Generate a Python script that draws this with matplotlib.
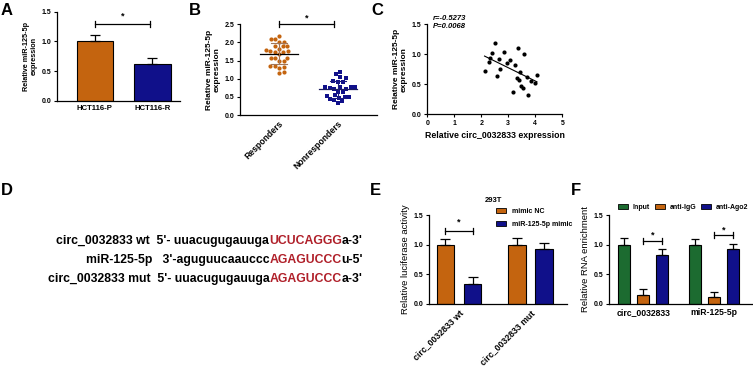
import numpy as np
import matplotlib
matplotlib.use("Agg")
import matplotlib.pyplot as plt
from matplotlib.patches import Patch

plt.rcParams['font.family'] = ['Liberation Sans', 'DejaVu Sans']

# ---------------- data ----------------
a_groups = ['HCT116-P', 'HCT116-R']
a_mean = [1.00, 0.62]
a_err = [0.11, 0.10]

b_groups = ['Responders', 'Nonresponders']
b_resp = [2.18, 2.09, 2.10, 2.01, 2.02, 1.90, 1.91, 1.90, 1.80, 1.82, 1.77, 1.76, 1.74,
          1.73, 1.69, 1.58, 1.58, 1.57, 1.49, 1.50, 1.35, 1.32, 1.30, 1.36, 1.19, 1.17]
b_nonresp = [1.19, 1.13, 1.04, 1.01, 0.92, 0.93, 0.92, 0.76, 0.74, 0.71, 0.76, 0.71, 0.64,
             0.64, 0.52, 0.50, 0.55, 0.50, 0.43, 0.42, 0.39, 0.48, 0.34, 0.76, 0.78]

c_circ = [2.12, 2.27, 2.33, 2.40, 2.52, 2.58, 2.64, 2.70, 2.83, 2.95, 3.07, 3.26, 3.17,
          3.36, 3.32, 3.44, 3.41, 3.48, 3.53, 3.57, 3.69, 3.73, 3.84, 3.98, 4.06]
c_mir = [0.72, 0.88, 0.94, 1.02, 1.19, 0.64, 0.93, 0.75, 1.04, 0.85, 0.91, 0.83, 0.37,
         1.11, 0.61, 0.70, 0.57, 0.48, 0.44, 1.00, 0.63, 0.33, 0.56, 0.53, 0.65]
c_stats = ['r=-0.5273', 'P=0.0068']

d_rows = [
    ("circ_0032833 wt  5'- uuacugugauuga", "UCUCAGGG", "a-3'"),
    ("miR-125-5p   3'-aguguucaauccc", "AGAGUCCC", "u-5'"),
    ("circ_0032833 mut  5'- uuacugugauuga", "AGAGUCCC", "a-3'"),
]

e_groups = ['circ_0032833 wt', 'circ_0032833 mut']
e_series = ['mimic NC', 'miR-125-5p mimic']
e_nc = [1.00, 1.00]
e_nc_err = [0.10, 0.11]
e_mimic = [0.34, 0.92]
e_mimic_err = [0.11, 0.10]

f_groups = ['circ_0032833', 'miR-125-5p']
f_series = ['Input', 'anti-IgG', 'anti-Ago2']
f_input = [1.00, 1.00]
f_input_err = [0.11, 0.10]
f_igg = [0.15, 0.12]
f_igg_err = [0.11, 0.09]
f_ago2 = [0.83, 0.92]
f_ago2_err = [0.09, 0.09]

# ---------------- style ----------------
ORANGE = '#C4640F'
NAVY = '#10108A'
GREEN = '#1C6B30'
RED = '#B0202A'
W, H = 753, 366
fig = plt.figure(figsize=(W / 100, H / 100), dpi=100)


def add_ax(l, t, r, b):
    return fig.add_axes([l / W, 1 - b / H, (r - l) / W, (b - t) / H])


def style(ax, yticks, tick_fs=5):
    for s in ['top', 'right']:
        ax.spines[s].set_visible(False)
    for s in ['left', 'bottom']:
        ax.spines[s].set_linewidth(0.9)
    ax.set_yticks(yticks)
    ax.set_yticklabels(['%.1f' % v for v in yticks], fontsize=tick_fs, fontweight='bold')
    ax.tick_params(axis='y', length=2.5, width=0.8, pad=1.5)
    ax.set_facecolor('none')


def bracket(ax, x0, x1, y, ystar, hpx=3):
    dy = hpx * (ax.get_ylim()[1] - ax.get_ylim()[0]) / (ax.bbox.height)
    ax.plot([x0, x1], [y, y], color='black', lw=0.9, clip_on=False)
    ax.plot([x0, x0], [y - dy, y + dy], color='black', lw=0.9, clip_on=False)
    ax.plot([x1, x1], [y - dy, y + dy], color='black', lw=0.9, clip_on=False)
    ax.text((x0 + x1) / 2, ystar, '*', ha='center', va='center', fontsize=6.5,
            fontweight='bold', clip_on=False)


def panel_label(x, y, s):
    fig.text(x / W, 1 - y / H, s, fontsize=12, fontweight='bold', ha='left', va='top')


ekw = dict(ecolor='black', elinewidth=0.9, capsize=3.5, capthick=0.9)

# ---------------- A ----------------
axA = add_ax(57, 11.7, 180, 100.7)
xA = np.arange(len(a_groups))
axA.bar(xA, a_mean, width=0.64, color=[ORANGE, NAVY], edgecolor='black', linewidth=0.8,
        yerr=[np.zeros(2), a_err], error_kw=ekw)
axA.set_xlim(-0.66, 1.48)
axA.set_ylim(0, 1.5)
style(axA, [0, 0.5, 1.0, 1.5])
axA.set_xticks(xA)
axA.set_xticklabels(a_groups, fontsize=5.6, fontweight='bold')
axA.tick_params(axis='x', length=0, pad=3)
axA.set_ylabel('Relative miR-125-5p\nexpression', fontsize=5.2, fontweight='bold', labelpad=3,
               linespacing=1.1)
bracket(axA, 0, 0.96, 1.30, 1.42)
panel_label(1, 3, 'A')

# ---------------- B ----------------
axB = add_ax(240, 24.3, 377, 115)
axB.set_xlim(-0.66, 1.66)
axB.set_ylim(0, 2.5)
style(axB, [0, 0.5, 1.0, 1.5, 2.0, 2.5])
fig.canvas.draw()
xpx = axB.bbox.width / (axB.get_xlim()[1] - axB.get_xlim()[0])
ypx = axB.bbox.height / (axB.get_ylim()[1] - axB.get_ylim()[0])


def swarm(vals, diam):
    vals = np.asarray(vals, dtype=float)
    order = np.argsort(vals)
    placed = []
    offs = np.zeros(len(vals))
    for i in order:
        y = vals[i] * ypx
        cands = [0.0]
        for (px, py) in placed:
            d = abs(py - y)
            if d < diam:
                dx = np.sqrt(diam ** 2 - d ** 2)
                cands += [px + dx, px - dx]
        cands = sorted(cands, key=abs)
        for c in cands:
            ok = all((c - px) ** 2 + (y - py) ** 2 >= diam ** 2 - 1e-6 for (px, py) in placed)
            if ok:
                offs[i] = c
                placed.append((c, y))
                break
    return offs / xpx


for k, (vals, col, mk, mline, sdcol) in enumerate([
        (b_resp, ORANGE, 'o', 'black', '#A0765A'),
        (b_nonresp, NAVY, 's', '#1A1A60', '#1A1A80')]):
    off = swarm(vals, 4.6)
    axB.scatter(k + off, vals, s=9, marker=mk, color=col, linewidths=0, zorder=3)
    m = np.mean(vals)
    sd = np.std(vals, ddof=1)
    axB.plot([k - 0.32, k + 0.32], [m, m], color=mline, lw=0.9, zorder=4)
    axB.plot([k, k], [m - sd, m + sd], color=sdcol, lw=0.8, zorder=4)
    for yy in (m - sd, m + sd):
        axB.plot([k - 0.14, k + 0.14], [yy, yy], color=sdcol, lw=0.8, zorder=4)
axB.set_xticks([0, 1])
axB.set_xticklabels(b_groups, fontsize=6.2, fontweight='bold', rotation=45, ha='right',
                    va='top', rotation_mode='anchor')
axB.tick_params(axis='x', length=0, pad=3)
axB.set_ylabel('Relative miR-125-5p\nexpression', fontsize=6, fontweight='bold', labelpad=3,
               linespacing=1.1)
bracket(axB, 0, 0.93, 2.52, 2.68)
panel_label(189, 3, 'B')

# ---------------- C ----------------
axC = add_ax(427.3, 24.3, 562.3, 114.3)
axC.scatter(c_circ, c_mir, s=9, color='black', linewidths=0, zorder=3)
slope, icpt = np.polyfit(c_circ, c_mir, 1)
xs = np.array([min(c_circ), max(c_circ)])
axC.plot(xs, slope * xs + icpt, color='black', lw=0.8)
axC.set_xlim(0, 5)
axC.set_ylim(0, 1.5)
style(axC, [0, 0.5, 1.0, 1.5])
axC.set_xticks(range(6))
axC.set_xticklabels([str(i) for i in range(6)], fontsize=5, fontweight='bold')
axC.tick_params(axis='x', length=2.5, width=0.8, pad=1.5)
axC.set_xlabel('Relative circ_0032833 expression', fontsize=6.3, fontweight='bold', labelpad=3)
axC.set_ylabel('Relative miR-125-5p\nexpression', fontsize=6, fontweight='bold', labelpad=3,
               linespacing=1.1)
for s, yp in zip(c_stats, [18, 27]):
    fig.text(433 / W, 1 - yp / H, s, fontsize=5.5, fontweight='bold', style='italic',
             va='center', ha='left')
panel_label(371, 3, 'C')

# ---------------- D ----------------
panel_label(1, 183, 'D')
fig.canvas.draw()
rend = fig.canvas.get_renderer()
dkw = dict(ha='left', va='baseline', fontsize=8.8, fontweight='bold')


def text_w(s):
    t = fig.text(0, 0, s, **dkw)
    w = t.get_window_extent(rend).width
    t.remove()
    return w


for (pre, mid, post), yp in zip(d_rows, [244, 263, 282]):
    full = pre + mid + post
    w_full = text_w(full)
    x0 = 363.0 - w_full
    x_mid = x0 + text_w(pre + mid) - text_w(mid)
    x_post = x0 + w_full - text_w(post)
    fig.text(x0 / W, 1 - yp / H, pre, color='black', **dkw)
    fig.text(x_mid / W, 1 - yp / H, mid, color=RED, **dkw)
    fig.text(x_post / W, 1 - yp / H, post, color='black', **dkw)

# ---------------- E ----------------
axE = add_ax(429, 215, 567, 304)
xE = np.arange(len(e_groups))
off = 0.19
bw = 0.245
axE.bar(xE - off, e_nc, width=bw, color=ORANGE, edgecolor='black', linewidth=0.8,
        yerr=[np.zeros(2), e_nc_err], error_kw=ekw, label=e_series[0])
axE.bar(xE + off, e_mimic, width=bw, color=NAVY, edgecolor='black', linewidth=0.8,
        yerr=[np.zeros(2), e_mimic_err], error_kw=ekw, label=e_series[1])
axE.set_xlim(-0.42, 1.51)
axE.set_ylim(0, 1.5)
style(axE, [0, 0.5, 1.0, 1.5])
axE.set_xticks(xE)
axE.set_xticklabels(e_groups, fontsize=6.3, fontweight='bold', rotation=45, ha='right',
                    va='top', rotation_mode='anchor')
axE.tick_params(axis='x', length=0, pad=3)
axE.set_ylabel('Relative luciferase activity', fontsize=6.8, labelpad=3)
bracket(axE, -off, off, 1.235, 1.38)
fig.text(485 / W, 1 - 200 / H, '293T', fontsize=5.5, fontweight='bold', va='center', ha='left')
axE.legend(handles=[Patch(facecolor=ORANGE, edgecolor='black', linewidth=0.6),
                    Patch(facecolor=NAVY, edgecolor='black', linewidth=0.6)],
           labels=e_series, loc='upper left', bbox_to_anchor=(496 / W, 1 - 208 / H),
           bbox_transform=fig.transFigure, fontsize=5, frameon=False,
           handlelength=1.5, handleheight=0.8, handletextpad=0.8, labelspacing=0.85,
           borderpad=0, borderaxespad=0)
for t in axE.get_legend().get_texts():
    t.set_fontweight('bold')
panel_label(370, 183, 'E')

# ---------------- F ----------------
axF = add_ax(609, 215, 752, 304)
xF = np.arange(len(f_groups))
off = 0.268
bw = 0.176
for dx, vals, errs, col, lab in [(-off, f_input, f_input_err, GREEN, f_series[0]),
                                  (0, f_igg, f_igg_err, ORANGE, f_series[1]),
                                  (off, f_ago2, f_ago2_err, NAVY, f_series[2])]:
    axF.bar(xF + dx, vals, width=bw, color=col, edgecolor='black', linewidth=0.8,
            yerr=[np.zeros(2), errs], error_kw=dict(ekw, capsize=3), label=lab)
axF.set_xlim(-0.48, 1.535)
axF.set_ylim(0, 1.5)
style(axF, [0, 0.5, 1.0, 1.5])
axF.set_xticks(xF)
axF.set_xticklabels(f_groups, fontsize=6.2, fontweight='bold')
axF.tick_params(axis='x', length=0, pad=3)
axF.set_ylabel('Relative RNA enrichment', fontsize=6.8, labelpad=3)
bracket(axF, 0, off, 1.06, 1.16)
bracket(axF, 1, 1 + off, 1.16, 1.25)
axF.legend(handles=[Patch(facecolor=GREEN, edgecolor='black', linewidth=0.6),
                    Patch(facecolor=ORANGE, edgecolor='black', linewidth=0.6),
                    Patch(facecolor=NAVY, edgecolor='black', linewidth=0.6)],
           labels=f_series, loc='upper left', bbox_to_anchor=(618 / W, 1 - 204 / H),
           bbox_transform=fig.transFigure, ncol=3, fontsize=5, frameon=False,
           handlelength=1.5, handleheight=0.8, handletextpad=0.6, columnspacing=0.7,
           borderpad=0, borderaxespad=0)
for t in axF.get_legend().get_texts():
    t.set_fontweight('bold')
panel_label(571, 183, 'F')

fig.savefig('out.png', dpi=100)
